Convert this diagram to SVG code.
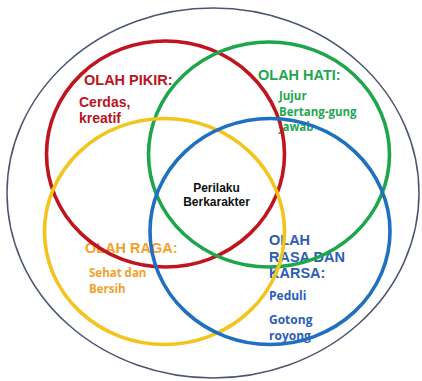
<svg xmlns="http://www.w3.org/2000/svg" width="422" height="381" viewBox="0 0 422 381">
<style>
.ring{fill:none;stroke-width:3.6}
.h{font-family:"Liberation Sans",Arial,sans-serif;font-weight:bold;font-size:14.5px}
.b{font-family:"Open Sans","Liberation Sans",sans-serif;font-weight:bold;font-size:11.5px}
.red{fill:#b8151e}.grn{fill:#23a650}.org{fill:#f2a12a}.blu{fill:#2d5db5}
</style>
<rect width="422" height="381" fill="#fff"/>
<ellipse cx="213" cy="193" rx="206" ry="185" fill="none" stroke="#4a5670" stroke-width="1.5"/>
<g id="olah-pikir">
<text class="h red" x="84" y="85">OLAH PIKIR:</text>
<text class="h red" x="79" y="107" style="font-size:14px">Cerdas,</text>
<text class="h red" x="79" y="123" style="font-size:14px">kreatif</text>
</g>
<g id="olah-hati">
<text class="h grn" x="258" y="80">OLAH HATI:</text>
<text class="b grn" x="279" y="100">Jujur</text>
<text class="b grn" x="279" y="116">Bertang-gung</text>
<text class="b grn" x="279" y="131">jawab</text>
</g>
<g id="olah-raga">
<text class="h org" x="85" y="253">OLAH RAGA:</text>
<text class="b org" x="89" y="277">Sehat dan</text>
<text class="b org" x="89" y="293">Bersih</text>
</g>
<g id="olah-rasa">
<text class="h blu" x="269" y="245">OLAH</text>
<text class="h blu" x="269" y="262">RASA DAN</text>
<text class="h blu" x="269" y="278">KARSA:</text>
<text class="b blu" x="269" y="300" style="font-size:12px">Peduli</text>
<text class="b blu" x="269" y="324" style="font-size:12px">Gotong</text>
<text class="b blu" x="269" y="340" style="font-size:12px">royong</text>
</g>
<g id="connectors">
<ellipse class="ring" cx="165.5" cy="154" rx="119" ry="113" stroke="#c0141e"/>
<ellipse class="ring" cx="269" cy="154.5" rx="120.5" ry="112.5" stroke="#1fa64a"/>
<ellipse class="ring" cx="164.5" cy="231.5" rx="120" ry="113" stroke="#f2c41c"/>
<ellipse class="ring" cx="270" cy="231.5" rx="120" ry="113" stroke="#1f70c0"/>
</g>
<g id="center">
<text x="216.5" y="191.5" text-anchor="middle" font-family="Liberation Sans, Arial, sans-serif" font-weight="bold" font-size="12" fill="#111">Perilaku</text>
<text x="216.5" y="205.5" text-anchor="middle" font-family="Liberation Sans, Arial, sans-serif" font-weight="bold" font-size="12" fill="#111">Berkarakter</text>
</g>
</svg>
